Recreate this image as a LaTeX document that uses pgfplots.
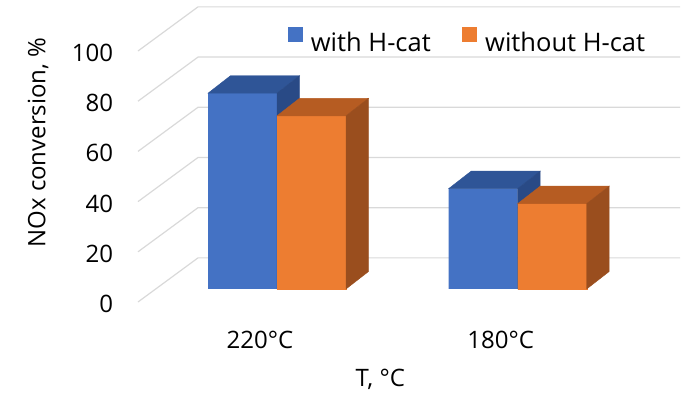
\documentclass[border=0pt]{standalone}
\usepackage{fontspec}
\setmainfont{Open Sans}
\usepackage{pgfplots}
\usepackage{pgfplotstable}
\pgfplotsset{compat=1.18}

\definecolor{hblue}{HTML}{4472C4}
\definecolor{hbluetop}{HTML}{2F5597}
\definecolor{hblueside}{HTML}{294A86}
\definecolor{horange}{HTML}{ED7D31}
\definecolor{horangetop}{HTML}{B65C22}
\definecolor{horangeside}{HTML}{9A4E1E}
\definecolor{gridgray}{HTML}{D9D9D9}

% an empty mark: the cuboid faces are drawn by the scatter code
\pgfdeclareplotmark{nomark}{}

% bar width, depth offset of the cuboids (pt) and y unit (pt per %)
\def\bw{69}
\def\dx{22.5}
\def\dy{17.5}
\def\yu{2.51}

\pgfplotstableread{
idx with without
0   78   69
1   40   34
}\conv

\begin{document}
\fontsize{24pt}{29pt}\selectfont
\begin{tikzpicture}
\begin{axis}[
  x=240.7pt, y=\yu pt,
  xmin=-0.6, xmax=1.6, ymin=0, ymax=100,
  clip=false,
  axis line style={draw=none},
  major tick length=0pt,
  tick style={draw=none},
  xtick={0,1}, xticklabels={220°C,180°C},
  ytick={0,20,...,100},
  /pgf/number format/assume math mode=true,
  xticklabel style={anchor=base, inner sep=0pt, xshift=-17pt, yshift=-59.3pt},
  yticklabel style={anchor=base east, inner sep=0pt, xshift=-19.3pt, yshift=-23.6pt},
  xlabel={T, °C}, ylabel={NOx conversion, \%},
  every axis x label/.style={at={(axis cs:0.4292,-38.65)}, anchor=base},
  every axis y label/.style={at={(axis cs:-0.99294,58.37)}, rotate=90, anchor=center},
  legend cell align=left,
  legend style={draw=none, fill=none, inner sep=0pt, legend columns=2,
    font=\fontsize{25.5pt}{30pt}\selectfont,
    at={(axis cs:0.0428,104.38)}, anchor=north west,
    nodes={inner sep=0pt},
    /tikz/every odd column/.append style={column sep=8.4pt},
    /tikz/every even column/.append style={column sep=31pt}},
]
% back wall and side wall grid
\pgfplotsinvokeforeach{0,20,40,60,80,100}{
  \draw[gridgray, line width=1.2pt] (axis cs:-0.5775,{#1-5.18}) -- (axis cs:-0.3282,{#1+12.4}) -- (axis cs:1.6743,{#1+12.4});
}

% with H-cat: front faces
\addplot[ybar, bar width=\bw pt, bar shift=-34.5pt, fill=hblue, draw=none,
  legend image code/.code={\fill[hblue] (0pt,1.7pt) rectangle (15pt,16.7pt);}]
  table[x=idx, y=with]{\conv};
\addlegendentry{with H-cat}

% without H-cat: front faces
\addplot[ybar, bar width=\bw pt, bar shift=34.5pt, fill=horange, draw=none,
  legend image code/.code={\fill[horange] (0pt,1.7pt) rectangle (15pt,16.7pt);}]
  table[x=idx, y=without]{\conv};
\addlegendentry{without H-cat}

% with H-cat: top and side faces (marks are drawn after all bars)
\addplot[forget plot, only marks, mark=nomark, scatter,
  visualization depends on={rawy \as \val},
  scatter/@pre marker code/.code={%
    \pgfmathsetmacro\h{\val*\yu}%
    \fill[hbluetop] (-\bw pt,0pt) -- (0pt,0pt) -- (\dx pt,\dy pt) -- ({(\dx-\bw)*1pt},\dy pt) -- cycle;
    \fill[hblueside] (0pt,0pt) -- (\dx pt,\dy pt) -- (\dx pt,{(\dy-\h)*1pt}) -- (0pt,{-\h*1pt}) -- cycle;
  },
  scatter/@post marker code/.code={}]
  table[x=idx, y=with]{\conv};

% without H-cat: front, top and side faces, over the blue side faces
\addplot[forget plot, only marks, mark=nomark, scatter,
  visualization depends on={rawy \as \val},
  scatter/@pre marker code/.code={%
    \pgfmathsetmacro\h{\val*\yu}%
    \fill[horange] (0pt,0pt) rectangle (\bw pt,{-\h*1pt});
    \fill[horangetop] (0pt,0pt) -- (\bw pt,0pt) -- ({(\dx+\bw)*1pt},\dy pt) -- (\dx pt,\dy pt) -- cycle;
    \fill[horangeside] (\bw pt,0pt) -- ({(\dx+\bw)*1pt},\dy pt) -- ({(\dx+\bw)*1pt},{(\dy-\h)*1pt}) -- (\bw pt,{-\h*1pt}) -- cycle;
  },
  scatter/@post marker code/.code={}]
  table[x=idx, y=without]{\conv};

% canvas
\path (axis cs:-1.15083,-42.231) rectangle (axis cs:1.71167,115.139);
\end{axis}
\end{tikzpicture}
\end{document}
